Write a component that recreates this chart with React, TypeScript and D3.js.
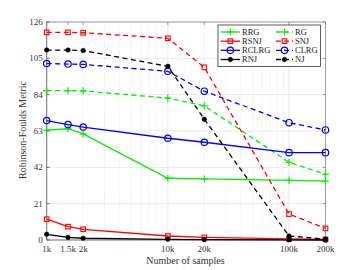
import React from "react";
import * as d3 from "d3";

const samples = [1000, 1500, 2000, 10000, 20000, 100000, 200000];
const xTickLabels = ["1k", "1.5k", "2k", "10k", "20k", "100k", "200k"];
const yTicks = [0, 21, 42, 63, 84, 105, 126];

const RRG = [63.5, 64.3, 61.3, 35.7, 35.3, 34.5, 34];
const RG = [86.3, 86.3, 86.2, 82, 77.5, 44.9, 38];
const RSNJ = [12, 7.7, 6.2, 2.3, 1.5, 0.6, 0.3];
const SNJ = [120, 120, 119.8, 116.6, 99.8, 15, 6.7];
const RCLRG = [69, 66.7, 65.3, 58.8, 56.5, 50.5, 50.5];
const CLRG = [102, 101.7, 101.5, 97.5, 86, 67.8, 63.6];
const RNJ = [3.3, 1.5, 1, 0.4, 0.2, 0.1, 0];
const NJ = [109.8, 109.8, 109.5, 100.4, 69.8, 2.3, 0.5];

type Series = { name: string; values: number[]; color: string; dashed: boolean; marker: string };
const series: Series[] = [
  { name: "RRG", values: RRG, color: "#00ee00", dashed: false, marker: "plus" },
  { name: "RG", values: RG, color: "#00ee00", dashed: true, marker: "plus" },
  { name: "RSNJ", values: RSNJ, color: "#ff0000", dashed: false, marker: "square" },
  { name: "SNJ", values: SNJ, color: "#ff0000", dashed: true, marker: "square" },
  { name: "RCLRG", values: RCLRG, color: "#0000ff", dashed: false, marker: "circle" },
  { name: "CLRG", values: CLRG, color: "#0000ff", dashed: true, marker: "circle" },
  { name: "RNJ", values: RNJ, color: "#000000", dashed: false, marker: "dot" },
  { name: "NJ", values: NJ, color: "#000000", dashed: true, marker: "dot" },
];

const left = 46.7, right = 325.5, top = 22, bottom = 240;
const font = "'Liberation Serif', 'Times New Roman', serif";

function Marker({ type, x, y, color }: { type: string; x: number; y: number; color: string }) {
  if (type === "plus")
    return (
      <g stroke={color} strokeWidth={1.2}>
        <line x1={x - 3.5} x2={x + 3.5} y1={y} y2={y} />
        <line x1={x} x2={x} y1={y - 3.5} y2={y + 3.5} />
      </g>
    );
  if (type === "square")
    return <rect x={x - 2.3} y={y - 2.3} width={4.6} height={4.6} fill="none" stroke={color} strokeWidth={1.1} />;
  if (type === "circle") return <circle cx={x} cy={y} r={3.2} fill="none" stroke={color} strokeWidth={1.2} />;
  return <circle cx={x} cy={y} r={2.3} fill={color} stroke={color} strokeWidth={0.5} />;
}

export default function App() {
  const x = d3.scaleLog().domain([1000, 200000]).range([left, right]);
  const y = d3.scaleLinear().domain([0, 126]).range([bottom, top]);
  const line = (vals: number[]) =>
    d3.line<number>().x((_, i) => x(samples[i])).y((v) => y(v))(vals) || "";

  const minor: number[] = [];
  for (let dec = 1000; dec < 200000; dec *= 10) {
    for (let k = 2; k <= 9; k++) {
      const v = dec * k;
      if (v <= 200000) minor.push(v);
    }
  }
  const majors = [1000, 10000, 100000];

  const legendX = 218, legendY = 25, legendW = 102.5, legendH = 41.5;
  const legendRows = 4;

  return (
    <svg width={360} height={270} style={{ position: "absolute", left: 0, top: 0, background: "#fff" }} fontFamily={font}>
      <rect x={0} y={0} width={360} height={270} fill="#fff" />
      {/* grid */}
      {yTicks.map((t) => (
        <line key={"gy" + t} x1={left} x2={right} y1={y(t)} y2={y(t)} stroke="#e3e3e3" strokeWidth={0.8} />
      ))}
      {minor.map((v) => (
        <line key={"gm" + v} x1={x(v)} x2={x(v)} y1={top} y2={bottom} stroke="#d8d8d8" strokeWidth={0.6} strokeDasharray="1,1.5" />
      ))}
      {majors.map((v) => (
        <line key={"gM" + v} x1={x(v)} x2={x(v)} y1={top} y2={bottom} stroke="#e3e3e3" strokeWidth={0.8} />
      ))}
      {/* box */}
      <line x1={left} x2={right} y1={top} y2={top} stroke="#888" strokeWidth={0.8} />
      <line x1={right} x2={right} y1={top} y2={bottom} stroke="#888" strokeWidth={0.8} />
      <line x1={left} x2={left} y1={top} y2={bottom} stroke="#555" strokeWidth={0.8} />
      <line x1={left} x2={right} y1={bottom} y2={bottom} stroke="#555" strokeWidth={0.8} />
      {/* ticks */}
      {yTicks.map((t) => (
        <g key={"ty" + t}>
          <line x1={left} x2={left + 3} y1={y(t)} y2={y(t)} stroke="#555" strokeWidth={0.8} />
          <line x1={right} x2={right - 3} y1={y(t)} y2={y(t)} stroke="#888" strokeWidth={0.8} />
          <text x={left - 4} y={y(t)} dy="0.35em" textAnchor="end" fontSize={9} fill="#333">{t}</text>
        </g>
      ))}
      {samples.map((s, i) => (
        <g key={"tx" + s}>
          <line x1={x(s)} x2={x(s)} y1={bottom} y2={bottom - 3} stroke="#555" strokeWidth={0.8} />
          <line x1={x(s)} x2={x(s)} y1={top} y2={top + 3} stroke="#888" strokeWidth={0.8} />
          <text x={x(s)} y={bottom + 12} textAnchor="middle" fontSize={9} fill="#333">{xTickLabels[i]}</text>
        </g>
      ))}
      <text x={185.5} y={263.5} textAnchor="middle" fontSize={10} fill="#333">Number of samples</text>
      <text transform={`translate(26,130) rotate(-90)`} textAnchor="middle" fontSize={10} fill="#333">Robinson-Foulds Metric</text>
      {/* series */}
      {series.map((s) => (
        <g key={s.name}>
          <path d={line(s.values)} fill="none" stroke={s.color} strokeWidth={1.3} strokeDasharray={s.dashed ? "5,3.5" : undefined} />
          {s.values.map((v, i) => (
            <Marker key={i} type={s.marker} x={x(samples[i])} y={y(v)} color={s.color} />
          ))}
        </g>
      ))}
      {/* legend */}
      <rect x={legendX} y={legendY} width={legendW} height={legendH} fill="#fff" stroke="#333" strokeWidth={0.8} />
      {series.map((s, i) => {
        const col = i % 2;
        const row = Math.floor(i / 2);
        const ly = legendY + 7 + row * (legendH - 14) / (legendRows - 1);
        const lx0 = col === 0 ? 220.7 : 276;
        const lx1 = col === 0 ? 240 : 293;
        return (
          <g key={"lg" + s.name}>
            <line x1={lx0} x2={lx1} y1={ly} y2={ly} stroke={s.color} strokeWidth={1.3} strokeDasharray={s.dashed ? "5,3" : undefined} />
            <Marker type={s.marker} x={(lx0 + lx1) / 2} y={ly} color={s.color} />
            <text x={lx1 + 2} y={ly} dy="0.35em" fontSize={8.5} fill="#222">{s.name}</text>
          </g>
        );
      })}
    </svg>
  );
}
